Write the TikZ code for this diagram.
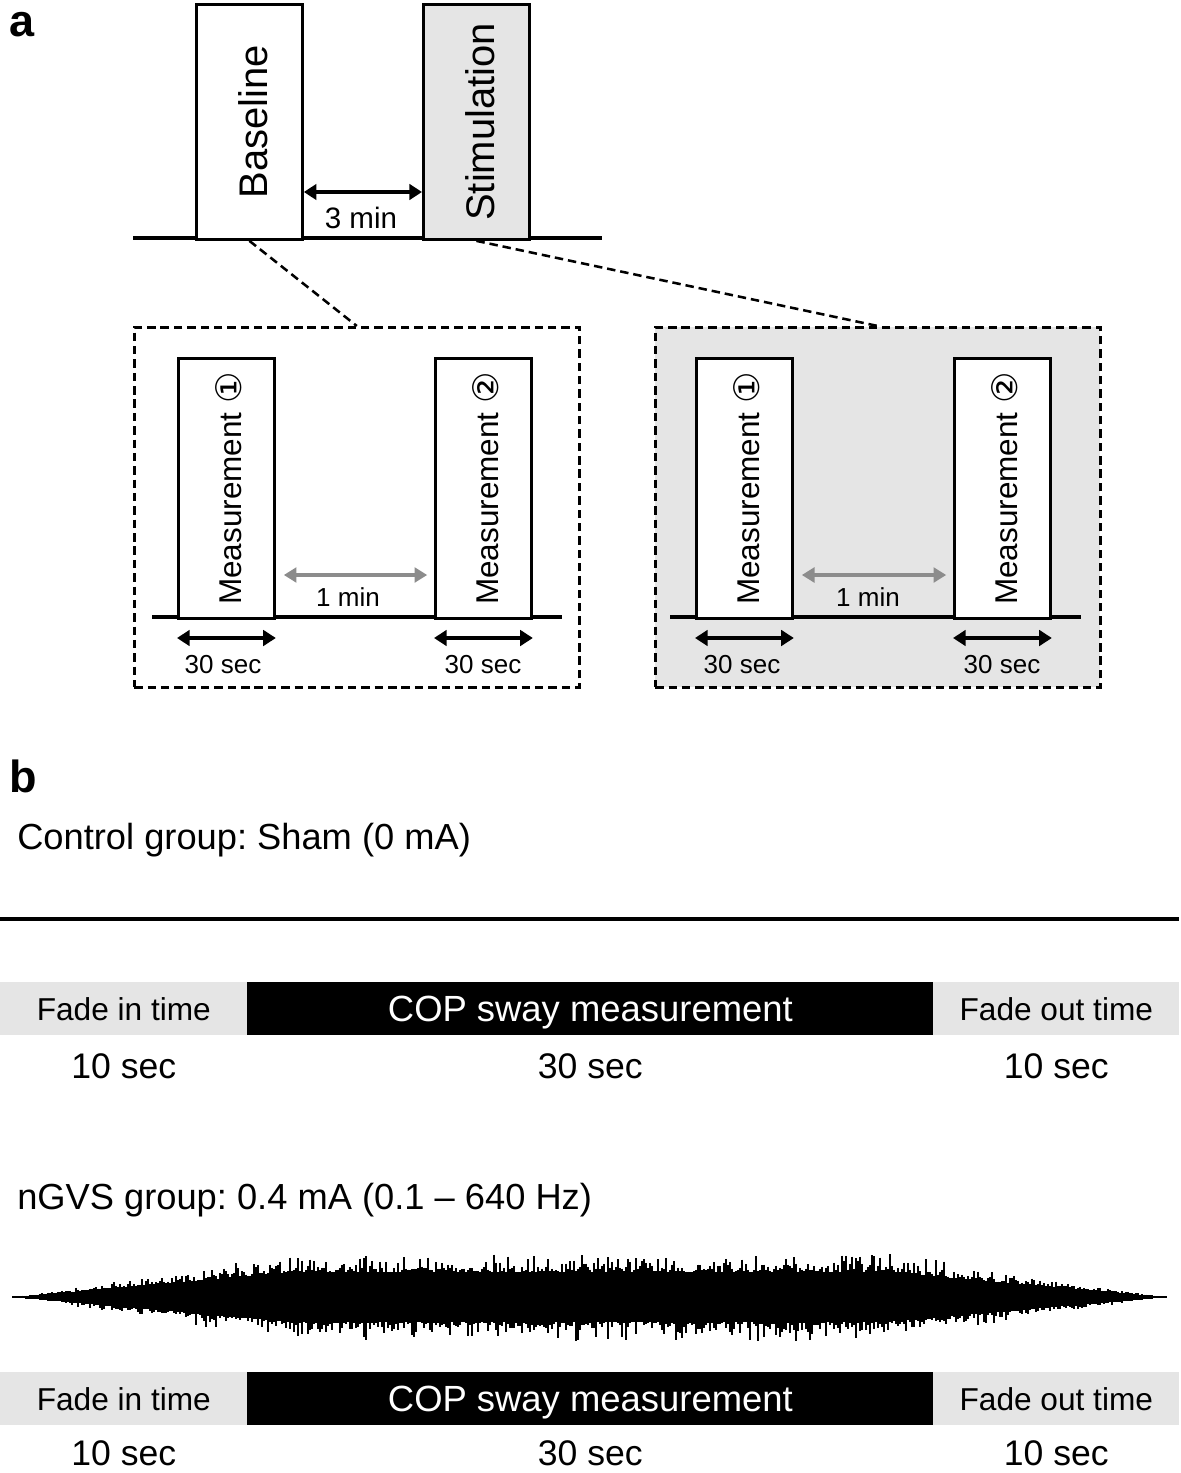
\documentclass[tikz,border=0pt]{standalone}
\usepackage{fontspec}
\setmainfont{Liberation Sans}
\newfontfamily\circfont{DejaVu Sans}
\usepackage{tikz}
\usetikzlibrary{arrows.meta,positioning}
\frenchspacing

\begin{document}
\begin{tikzpicture}[x=0.025cm,y=-0.025cm,
    box/.style={draw=black,line width=2pt,fill=white,anchor=north west},
    frame/.style={draw=black,line width=1.8pt,dash pattern=on 6pt off 3.5pt,anchor=north west,minimum width=11.125cm,minimum height=9cm},
    zoomline/.style={black,line width=1.8pt,dash pattern=on 6pt off 3.5pt},
    axis/.style={black,line width=2.2pt},
    span/.style={black,line width=2.6pt,{Triangle[length=9pt,width=11pt]}-{Triangle[length=9pt,width=11pt]}},
    spansmall/.style={black,line width=2.3pt,{Triangle[length=9pt,width=11pt]}-{Triangle[length=9pt,width=11pt]}},
    gap/.style={black!45,line width=2.2pt,{Triangle[length=9pt,width=10.5pt]}-{Triangle[length=9pt,width=10.5pt]},shorten <=0.2cm,shorten >=0.17cm},
    bar/.style={anchor=north west,minimum height=1.325cm,fill=gray!20,text depth=0pt,font=\fontsize{22.5}{26}\selectfont},
    copbar/.style={bar,fill=black,text=white,font=\fontsize{25.9}{30}\selectfont},
    dur/.style={font=\fontsize{25.3}{30}\selectfont},
    title/.style={anchor=west,font=\fontsize{25.8}{30}\selectfont},
    panel/.style={font=\fontsize{32}{36}\selectfont\bfseries},
    big/.style={rotate=90,font=\fontsize{28.4}{32}\selectfont},
    meas/.style={rotate=90,font=\fontsize{22.4}{26}\selectfont},
    small/.style={font=\fontsize{18.5}{22}\selectfont},
    wave/.style={black,line width=1.5pt}]
\tikzstyle{every node}+=[inner sep=0pt]
\useasboundingbox (0,0) rectangle (1181,1473);

% panel a
\node[panel] (pa) at (22,25) {a};
\coordinate (tlA) at (133,238);
\coordinate (tlB) at (602,238);
\draw[axis] (tlA) -- (tlB);
\node[box,minimum width=2.65cm,minimum height=5.875cm] (base) at (195,3) {};
\node[box,fill=gray!20,minimum width=2.65cm,minimum height=5.875cm] (stim) at (422,3) {};
\node[big] at ([xshift=0.1cm]base.center) {Baseline};
\node[big] at ([xshift=0.1cm]stim.center) {Stimulation};
\coordinate (g3) at (0,192);
\draw[span] (base.east |- g3) -- (stim.west |- g3);
\node[font=\fontsize{21}{25}\selectfont] (t3) at (361,218) {3 min};

\node[frame] (frameL) at (133,326) {};
\node[frame,fill=gray!20] (frameR) at (654,326) {};
\draw[zoomline] (base.south) -- (frameL.north);
\draw[zoomline] (stim.south) -- (frameR.north);

\coordinate (tlLA) at (152,617);
\coordinate (tlLB) at (562,617);
\coordinate (tlRA) at (670,617);
\coordinate (tlRB) at (1081,617);
\draw[axis] (tlLA) -- (tlLB);
\draw[axis] (tlRA) -- (tlRB);

\node[box,minimum width=2.4cm,minimum height=6.5cm] (mLa) at (177,357) {};
\node[box,minimum width=2.4cm,minimum height=6.5cm] (mLb) at (434,357) {};
\node[box,minimum width=2.4cm,minimum height=6.5cm] (mRa) at (695,357) {};
\node[box,minimum width=2.4cm,minimum height=6.5cm] (mRb) at (953,357) {};
\node[meas] at ([xshift=0.05cm]mLa.center) {Measurement {\circfont\fontsize{25}{28}\selectfont ①}};
\node[meas] at ([xshift=0.05cm]mLb.center) {Measurement {\circfont\fontsize{25}{28}\selectfont ②}};
\node[meas] at ([xshift=0.05cm]mRa.center) {Measurement {\circfont\fontsize{25}{28}\selectfont ①}};
\node[meas] at ([xshift=0.05cm]mRb.center) {Measurement {\circfont\fontsize{25}{28}\selectfont ②}};

\coordinate (g1) at (0,575);
\coordinate (g30) at (0,638);
\draw[gap] (mLa.east |- g1) -- (mLb.west |- g1);
\draw[gap] (mRa.east |- g1) -- (mRb.west |- g1);
\node[small] at (348,597) {1 min};
\node[small] at (868,597) {1 min};
\draw[spansmall] (mLa.west |- g30) -- (mLa.east |- g30);
\draw[spansmall] (mLb.west |- g30) -- (mLb.east |- g30);
\draw[spansmall] (mRa.west |- g30) -- (mRa.east |- g30);
\draw[spansmall] (mRb.west |- g30) -- (mRb.east |- g30);
\node[small] at (223,665) {30 sec};
\node[small] at (483,665) {30 sec};
\node[small] at (742,665) {30 sec};
\node[small] at (1002,665) {30 sec};

% panel b
\node[panel] (pb) at (23,776) {b};
\node[title] (ctrl) at (17,840) {Control group: Sham (0 mA)};
\coordinate (sepA) at (0,919);
\coordinate (sepB) at (1179,919);
\draw[axis] (sepA) -- (sepB);

\node[bar,minimum width=6.175cm] (finA) at (0,982) {Fade in time};
\node[copbar,minimum width=17.15cm] (copA) at (247,982) {COP sway measurement};
\node[bar,minimum width=6.15cm] (foutA) at (933,982) {Fade out time};
\node[dur,below=0.45cm of finA] {10 sec};
\node[dur,below=0.45cm of copA] {30 sec};
\node[dur,below=0.45cm of foutA] {10 sec};

\node[title] (ngvs) at (17,1200) {nGVS group: 0.4 mA (0.1 – 640 Hz)};
\coordinate (wl) at (12,1297);
\coordinate (wr) at (1167,1297);
\draw[wave,line width=2pt] (wl) -- (wr);
\pgfmathsetseed{11}
\foreach \x in {14,16,...,1165} {
  \pgfmathsetmacro\env{45*min(1,(\x-12)/280,(1167-\x)/280)}
  \pgfmathsetmacro\up{\env*(0.55+0.45*rnd*rnd)}
  \pgfmathsetmacro\dn{\env*(0.55+0.45*rnd*rnd)}
  \draw[wave] (\x,1297-\up) -- (\x,1297+\dn);
}

\node[bar,minimum width=6.175cm] (finB) at (0,1372) {Fade in time};
\node[copbar,minimum width=17.15cm] (copB) at (247,1372) {COP sway measurement};
\node[bar,minimum width=6.15cm] (foutB) at (933,1372) {Fade out time};
\node[dur,below=0.37cm of finB] {10 sec};
\node[dur,below=0.37cm of copB] {30 sec};
\node[dur,below=0.37cm of foutB] {10 sec};
\end{tikzpicture}
\end{document}
